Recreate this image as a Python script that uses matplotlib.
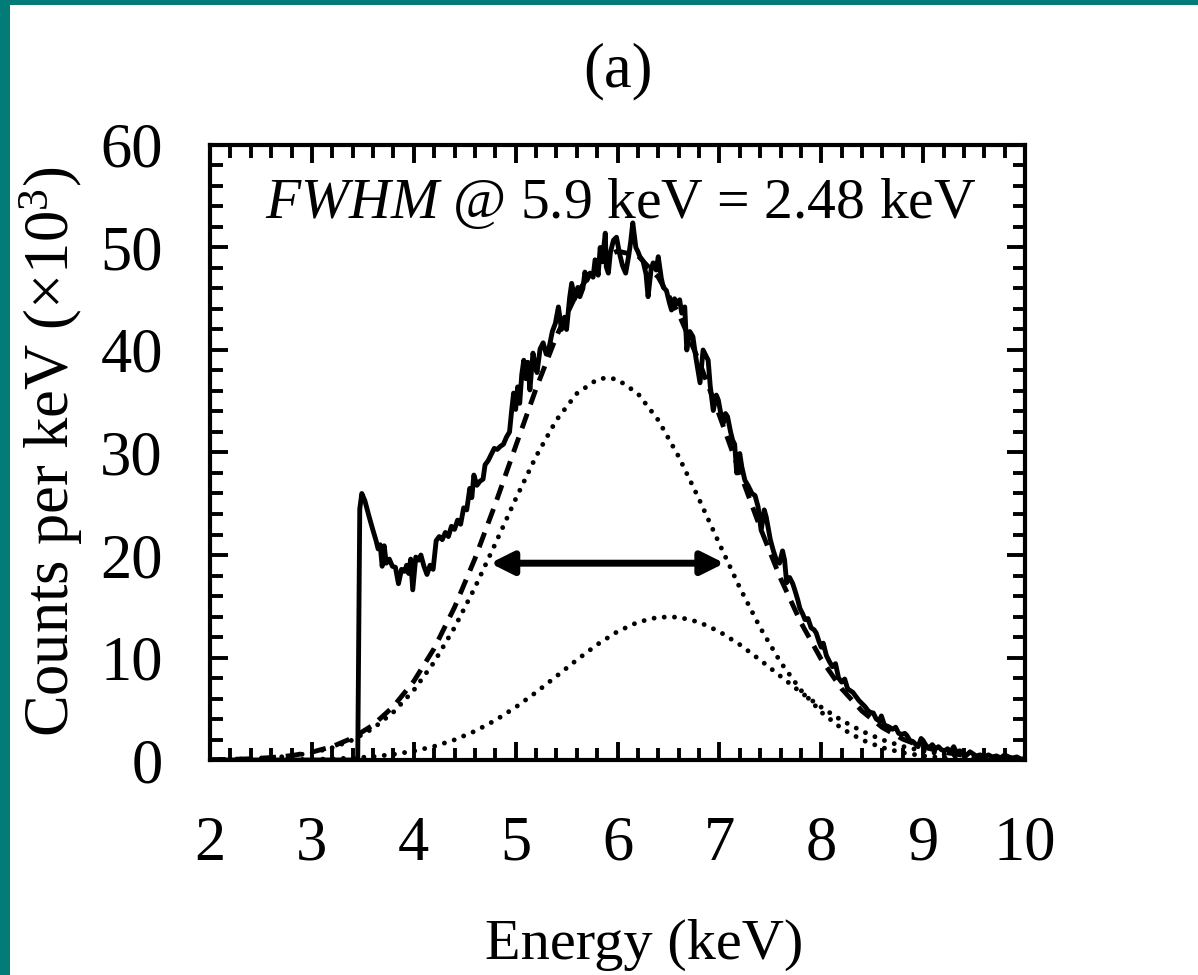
import matplotlib
matplotlib.use("Agg")
import matplotlib.pyplot as plt
from matplotlib.patches import Rectangle
from matplotlib.ticker import MultipleLocator

plt.rcParams['font.family'] = ['Liberation Serif', 'DejaVu Serif']
plt.rcParams['mathtext.fontset'] = 'custom'
plt.rcParams['mathtext.rm'] = 'Liberation Serif'
plt.rcParams['mathtext.it'] = 'Liberation Serif:italic'

# measured spectrum (counts per keV, x1000)
spec_e = [2.00, 3.45, 3.47, 3.49, 3.52, 3.56, 3.60, 3.63, 3.65, 3.67, 3.69, 3.71, 3.73, 3.76,
          3.79, 3.82, 3.85, 3.88, 3.91, 3.93, 3.95, 3.97, 3.99, 4.02, 4.05, 4.07, 4.10, 4.13,
          4.16, 4.19, 4.22, 4.25, 4.28, 4.31, 4.34, 4.37, 4.40, 4.43, 4.46, 4.49, 4.52, 4.55,
          4.57, 4.59, 4.62, 4.65, 4.68, 4.70, 4.73, 4.76, 4.79, 4.82, 4.85, 4.88, 4.91, 4.94,
          4.96, 4.98, 5.00, 5.02, 5.04, 5.06, 5.08, 5.10, 5.12, 5.14, 5.17, 5.19, 5.21, 5.24,
          5.27, 5.30, 5.33, 5.36, 5.39, 5.42, 5.45, 5.48, 5.50, 5.53, 5.55, 5.58, 5.61, 5.63,
          5.66, 5.68, 5.70, 5.73, 5.76, 5.78, 5.81, 5.83, 5.85, 5.88, 5.89, 5.91, 5.93, 5.96,
          5.99, 6.02, 6.05, 6.08, 6.11, 6.13, 6.15, 6.18, 6.20, 6.22, 6.25, 6.28, 6.30, 6.33,
          6.35, 6.38, 6.40, 6.43, 6.45, 6.48, 6.51, 6.53, 6.56, 6.58, 6.61, 6.63, 6.66, 6.68,
          6.71, 6.74, 6.77, 6.81, 6.84, 6.86, 6.89, 6.91, 6.94, 6.97, 6.99, 7.01, 7.04, 7.06,
          7.08, 7.11, 7.13, 7.15, 7.17, 7.20, 7.22, 7.25, 7.28, 7.32, 7.35, 7.38, 7.41, 7.44,
          7.46, 7.48, 7.50, 7.53, 7.56, 7.59, 7.62, 7.64, 7.66, 7.69, 7.72, 7.74, 7.77, 7.79,
          7.82, 7.84, 7.87, 7.90, 7.93, 7.95, 7.98, 8.00, 8.02, 8.05, 8.08, 8.11, 8.14, 8.17,
          8.20, 8.23, 8.26, 8.28, 8.31, 8.34, 8.37, 8.40, 8.43, 8.46, 8.49, 8.51, 8.54, 8.57,
          8.59, 8.62, 8.65, 8.67, 8.70, 8.73, 8.76, 8.79, 8.82, 8.84, 8.87, 8.90, 8.93, 8.95,
          8.98, 9.00, 9.03, 9.06, 9.09, 9.12, 9.15, 9.18, 9.21, 9.24, 9.27, 9.30, 9.33, 9.36,
          9.40, 9.43, 9.46, 9.49, 9.52, 9.56, 9.60, 9.64, 9.68, 9.72, 9.76, 9.80, 9.84, 9.88,
          9.92, 9.96, 10.00]
spec_c = [0.0, 0.0, 24.5, 26.0, 25.3, 23.8, 22.4, 21.4, 20.6, 21.0, 18.9, 20.9, 19.2, 19.6,
          18.9, 18.8, 17.2, 18.6, 18.4, 19.0, 18.2, 19.6, 16.6, 19.8, 19.5, 20.0, 18.9, 18.1,
          19.0, 18.6, 21.4, 21.8, 21.5, 22.2, 21.8, 22.8, 22.5, 23.4, 23.0, 24.6, 24.4, 26.5,
          25.6, 27.8, 26.8, 27.2, 27.4, 28.8, 29.2, 29.8, 30.4, 30.3, 30.6, 30.8, 31.5, 32.0,
          34.0, 35.8, 34.2, 36.4, 34.8, 37.6, 39.0, 37.2, 38.8, 36.1, 39.7, 38.6, 37.8, 40.1,
          40.7, 39.6, 40.3, 41.8, 42.6, 44.2, 42.0, 43.2, 42.0, 45.1, 46.5, 45.0, 46.1, 45.2,
          46.0, 47.6, 46.8, 47.5, 47.1, 48.8, 47.3, 50.0, 48.6, 51.4, 48.1, 47.5, 49.5, 50.7,
          51.0, 49.4, 48.2, 47.5, 49.2, 50.6, 52.4, 50.0, 49.6, 49.1, 48.7, 47.4, 45.2, 47.9,
          48.5, 47.8, 49.1, 47.0, 46.1, 45.8, 44.6, 43.9, 45.0, 44.5, 44.9, 43.6, 44.2, 40.0,
          41.8, 41.3, 39.2, 36.8, 40.0, 39.6, 39.0, 36.5, 34.1, 35.6, 35.1, 34.0, 32.9, 33.8,
          33.5, 32.0, 31.2, 30.8, 28.0, 29.9, 28.6, 27.3, 26.8, 26.0, 25.8, 24.7, 22.4, 24.4,
          23.7, 22.6, 21.5, 20.4, 19.5, 19.2, 20.4, 19.5, 17.3, 17.8, 17.2, 16.6, 15.6, 14.8,
          14.2, 13.7, 13.8, 12.9, 12.7, 12.4, 11.5, 11.0, 11.4, 10.2, 9.6, 9.1, 9.4, 8.0,
          7.6, 7.9, 6.9, 6.8, 6.6, 6.2, 5.8, 5.5, 5.2, 4.8, 4.6, 4.6, 4.0, 3.8,
          4.3, 3.4, 3.3, 3.2, 3.0, 3.2, 2.6, 2.5, 2.6, 2.4, 1.9, 1.8, 1.5, 1.3,
          2.1, 1.9, 1.4, 1.2, 1.5, 1.1, 1.3, 1.0, 0.9, 1.1, 0.8, 1.3, 0.7, 0.9,
          0.6, 0.5, 0.8, 0.6, 0.4, 0.5, 0.3, 0.5, 0.3, 0.4, 0.2, 0.5, 0.3, 0.2,
          0.3, 0.1, 0.1]

# fitted curves read at 0.2 keV steps
fit_e = [2.0, 2.2, 2.4, 2.6, 2.8, 3.0, 3.2, 3.4, 3.6, 3.8, 4.0, 4.2, 4.4, 4.6, 4.8, 5.0,
         5.2, 5.4, 5.6, 5.8, 5.9, 6.0, 6.2, 6.4, 6.6, 6.8, 7.0, 7.2, 7.4, 7.6, 7.8, 8.0,
         8.2, 8.4, 8.6, 8.8, 9.0, 9.2, 9.4, 9.6, 9.8, 10.0]
fit_ka = [0.03, 0.06, 0.12, 0.22, 0.40, 0.71, 1.20, 1.96, 3.08, 4.67, 6.81, 9.55, 12.92,
          16.82, 21.09, 25.46, 29.61, 33.16, 35.75, 37.12, 37.3, 37.12, 35.75, 33.16, 29.61,
          25.46, 21.09, 16.82, 12.92, 9.55, 6.81, 4.67, 3.08, 1.96, 1.20, 0.71, 0.40, 0.22,
          0.12, 0.06, 0.03, 0.01]
fit_kb = [0.00, 0.00, 0.01, 0.02, 0.03, 0.06, 0.11, 0.20, 0.33, 0.55, 0.87, 1.33, 1.97,
          2.81, 3.87, 5.15, 6.60, 8.17, 9.76, 11.26, 11.9, 12.53, 13.45, 13.94, 13.94, 13.45,
          12.53, 11.26, 9.76, 8.17, 6.60, 5.15, 3.87, 2.81, 1.97, 1.33, 0.87, 0.55, 0.33,
          0.20, 0.11, 0.06]
fit_sum = [0.03, 0.06, 0.12, 0.24, 0.43, 0.77, 1.31, 2.16, 3.41, 5.22, 7.68, 10.88, 14.89,
           19.63, 24.96, 30.61, 36.21, 41.33, 45.51, 48.38, 49.2, 49.65, 49.20, 47.10, 43.55,
           38.91, 33.62, 28.08, 22.68, 17.72, 13.41, 9.82, 6.95, 4.77, 3.17, 2.04, 1.27, 0.77,
           0.45, 0.25, 0.14, 0.07]

# FWHM marker
fwhm_lo = 4.75
fwhm_hi = 7.05
half_max = 19.2

fig = plt.figure(figsize=(11.98, 9.75), dpi=100)
ax = fig.add_axes([0.1753, 0.2205, 0.6803, 0.6308])

lw = 3.5
ax.plot(fit_e, fit_ka, color='k', lw=lw, linestyle=(0, (0.01, 2.1)), dash_capstyle='round')
ax.plot(fit_e, fit_kb, color='k', lw=lw, linestyle=(0, (0.01, 2.1)), dash_capstyle='round')
ax.plot(fit_e, fit_sum, color='k', lw=lw, linestyle=(0, (3.2, 2.0)))
ax.plot(spec_e, spec_c, color='k', lw=lw, solid_joinstyle='round')

ax.annotate('', xy=(fwhm_lo, half_max), xytext=(fwhm_hi, half_max),
            arrowprops=dict(arrowstyle='<|-|>', color='k', lw=5, mutation_scale=34,
                            shrinkA=0, shrinkB=0))

ax.text(0.068, 0.881, r'$\mathit{FWHM}$ @ 5.9 keV = 2.48 keV', transform=ax.transAxes,
        fontsize=41.5, ha='left', va='baseline')

ax.set_xlim(2, 10)
ax.set_ylim(0, 60)
ax.xaxis.set_major_locator(MultipleLocator(1))
ax.xaxis.set_minor_locator(MultipleLocator(0.2))
ax.yaxis.set_major_locator(MultipleLocator(10))
ax.yaxis.set_minor_locator(MultipleLocator(2))
ax.tick_params(which='both', direction='in', top=True, right=True, width=2.8, color='k')
ax.tick_params(which='major', length=13, labelsize=45)
ax.tick_params(axis='x', which='major', pad=40)
ax.tick_params(axis='y', which='major', pad=34)
ax.tick_params(which='minor', length=9)
for s in ax.spines.values():
    s.set_linewidth(3)

ax.set_title('(a)', fontsize=45, pad=42)
fig.text(0.538, 0.031, 'Energy (keV)', fontsize=42, ha='center', va='center')
fig.text(0.043, 0.537, r'Counts per keV ($\times$10$^{3}$)', fontsize=45, ha='center',
         va='center', rotation=90)

teal = '#037b76'
fig.add_artist(Rectangle((0, 1 - 5 / 975), 1, 5 / 975, transform=fig.transFigure,
                         color=teal, lw=0))
fig.add_artist(Rectangle((0, 0), 10 / 1198, 1, transform=fig.transFigure, color=teal, lw=0))

fig.savefig('out.png', dpi=100)
